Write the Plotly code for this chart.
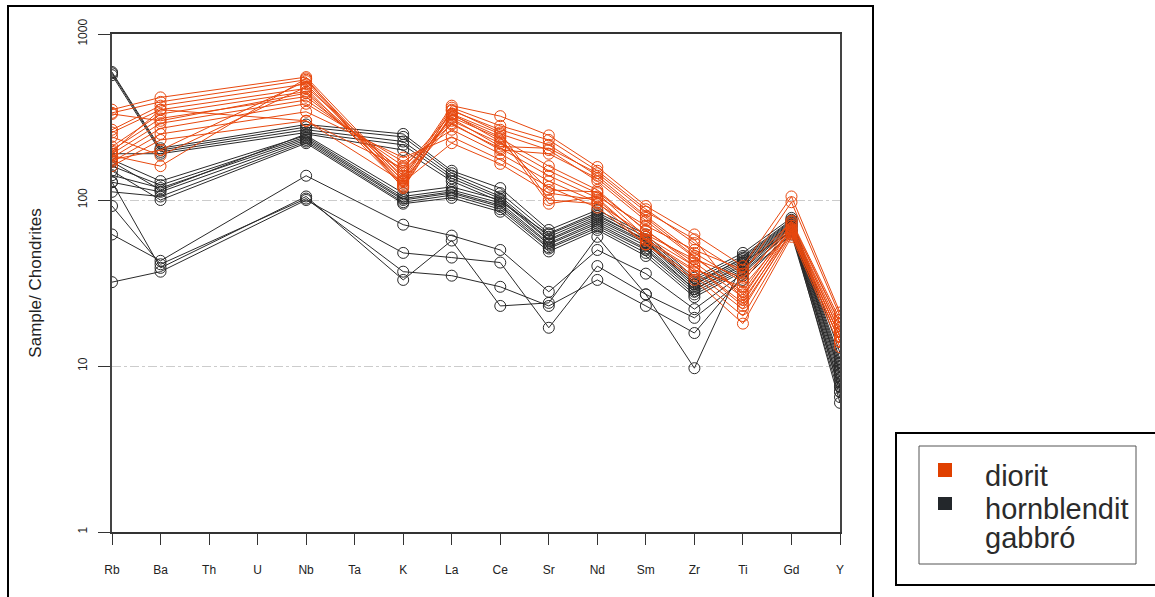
import plotly.graph_objects as go

elements = ["Rb", "Ba", "Th", "U", "Nb", "Ta", "K", "La", "Ce", "Sr", "Nd", "Sm", "Zr", "Ti", "Gd", "Y"]
measured = ["Rb", "Ba", "Nb", "K", "La", "Ce", "Sr", "Nd", "Sm", "Zr", "Ti", "Gd", "Y"]

# values for measured elements (Rb, Ba, Nb, K, La, Ce, Sr, Nd, Sm, Zr, Ti, Gd, Y)
diorit = [
    [350, 415, 550, 135, 370, 320, 245, 158, 92, 62, 40, 105, 21],
    [335, 390, 530, 130, 360, 280, 230, 150, 88, 55, 36, 97, 20],
    [265, 370, 500, 125, 345, 265, 215, 140, 80, 48, 32, 75, 19],
    [255, 350, 470, 120, 330, 250, 200, 130, 75, 45, 28, 72, 18],
    [210, 330, 450, 140, 315, 235, 160, 115, 65, 42, 26, 70, 17],
    [200, 310, 420, 150, 300, 220, 150, 110, 60, 40, 24, 68, 16],
    [190, 290, 400, 160, 285, 205, 140, 103, 57, 37, 22, 65, 15],
    [180, 270, 380, 170, 265, 190, 130, 97, 54, 35, 20, 62, 14],
    [170, 250, 340, 180, 240, 175, 120, 90, 54, 33, 18, 60, 13],
    [160, 230, 300, 128, 220, 165, 110, 100, 58, 38, 30, 66, 15],
    [175, 200, 520, 122, 350, 255, 100, 95, 62, 44, 34, 70, 16],
    [185, 160, 540, 118, 325, 240, 95, 105, 70, 50, 38, 74, 18],
    [240, 185, 480, 145, 310, 210, 205, 145, 85, 58, 25, 64, 14],
    [330, 300, 440, 132, 290, 200, 190, 135, 78, 46, 27, 67, 15],
    [195, 350, 300, 155, 330, 225, 115, 112, 66, 40, 23, 63, 14],
]

hornblendit = [
    [590, 205, 285, 250, 150, 118, 66, 87, 62, 34, 48, 78, 12],
    [580, 200, 275, 240, 145, 110, 63, 84, 60, 33, 46, 76, 11],
    [565, 195, 265, 225, 140, 105, 60, 80, 58, 32, 44, 74, 10.5],
    [190, 190, 255, 215, 135, 102, 58, 78, 56, 31, 43, 73, 10],
    [175, 130, 245, 110, 120, 100, 57, 76, 55, 30, 42, 72, 9.5],
    [160, 123, 240, 105, 115, 96, 55, 74, 53, 29, 41, 71, 9],
    [141, 118, 235, 102, 112, 93, 54, 72, 51, 29, 40, 70, 8.5],
    [128, 112, 230, 100, 110, 91, 52, 70, 50, 28, 39, 69, 8],
    [112, 105, 225, 97, 107, 88, 51, 68, 48, 27, 38, 68, 7.5],
    [150, 100, 220, 95, 103, 85, 49, 66, 46, 26, 37, 66, 7],
    [170, 115, 250, 200, 130, 98, 62, 82, 57, 31, 45, 75, 9],
    [62, 43, 140, 71, 61, 50, 28, 50, 36, 22, 36, 66, 7.5],
    [32, 37, 100, 48, 45, 42, 17, 40, 27, 19.5, 33, 64, 7],
    [92, 41, 102, 37, 35, 30, 23, 33, 23, 15.8, 35, 62, 6.5],
    [128, 39, 105, 33, 57, 23, 24, 60, 27, 9.7, 42, 65, 6],
]

ORANGE = "#E8480E"
DARK = "#2a2a2a"


def full_row(vals):
    d = dict(zip(measured, vals))
    return [d.get(e) for e in elements]


fig = go.Figure()
for group, color in ((hornblendit, DARK), (diorit, ORANGE)):
    for vals in group:
        fig.add_trace(go.Scatter(
            x=elements, y=full_row(vals), mode="lines+markers",
            connectgaps=True, showlegend=False,
            line=dict(color=color, width=1),
            marker=dict(symbol="circle-open", size=11, color=color, line=dict(width=1)),
        ))

W, H = 1155, 597
L, R, T, B = 112, 840, 34, 532


def px(x):
    return (x - L) / (R - L)


def py(y):
    return (B - y) / (B - T)


shapes = [
    # outer frame
    dict(type="rect", xref="paper", yref="paper", x0=px(8), x1=px(873), y0=py(600), y1=py(6),
         line=dict(color="black", width=2)),
    # legend outer box
    dict(type="rect", xref="paper", yref="paper", x0=px(896), x1=px(1160), y0=py(585), y1=py(433),
         line=dict(color="black", width=2)),
    # legend inner box
    dict(type="rect", xref="paper", yref="paper", x0=px(919), x1=px(1136), y0=py(564), y1=py(446),
         line=dict(color="#555555", width=1)),
    dict(type="rect", xref="paper", yref="paper", x0=px(938), x1=px(952), y0=py(477), y1=py(463),
         line=dict(width=0), fillcolor="#E04000"),
    dict(type="rect", xref="paper", yref="paper", x0=px(938), x1=px(952), y0=py(510), y1=py(497),
         line=dict(width=0), fillcolor="#23272b"),
]

legend_font = dict(family="Liberation Sans, Arial, sans-serif", size=29, color="#2b2b2b")
annotations = [
    dict(text="diorit", x=px(983), y=py(476), xref="paper", yref="paper", xanchor="left",
         yanchor="middle", showarrow=False, font=legend_font),
    dict(text="hornblendit", x=px(983), y=py(509), xref="paper", yref="paper", xanchor="left",
         yanchor="middle", showarrow=False, font=legend_font),
    dict(text="gabbró", x=px(983), y=py(538), xref="paper", yref="paper", xanchor="left",
         yanchor="middle", showarrow=False, font=legend_font),
]

fig.update_layout(
    width=W, height=H, autosize=False,
    margin=dict(l=L, r=W - R, t=T, b=H - B, pad=0),
    paper_bgcolor="white", plot_bgcolor="white",
    shapes=shapes, annotations=annotations,
    font=dict(family="Liberation Sans, Arial, sans-serif", color="#222222"),
)

fig.update_xaxes(
    type="category", categoryorder="array", categoryarray=elements,
    range=[0, len(elements) - 1],
    showgrid=False, zeroline=False,
    showline=True, linecolor="#333333", linewidth=1.5, mirror=True,
    ticks="outside", ticklen=11, tickcolor="#333333", tickwidth=1,
    ticklabelstandoff=15,
    tickfont=dict(family="Liberation Sans Narrow, Liberation Sans, Arial", size=12, color="#222222"),
)

fig.update_yaxes(
    type="log", range=[0, 3],
    tickvals=[1, 10, 100, 1000], ticktext=["1", "10", "100", "1000"],
    tickangle=-90,
    showgrid=True, gridcolor="#cccccc", gridwidth=1, griddash="dashdot",
    zeroline=False,
    showline=True, linecolor="#444444", linewidth=2, mirror=True,
    ticks="outside", ticklen=12, tickcolor="#333333", tickwidth=1,
    ticklabelstandoff=6,
    tickfont=dict(family="Liberation Sans, Arial", size=12, color="#222222"),
    title=dict(text="Sample/ Chondrites", standoff=30,
               font=dict(family="Liberation Sans, Arial", size=17, color="#222222")),
)

fig.write_html("out.html")
